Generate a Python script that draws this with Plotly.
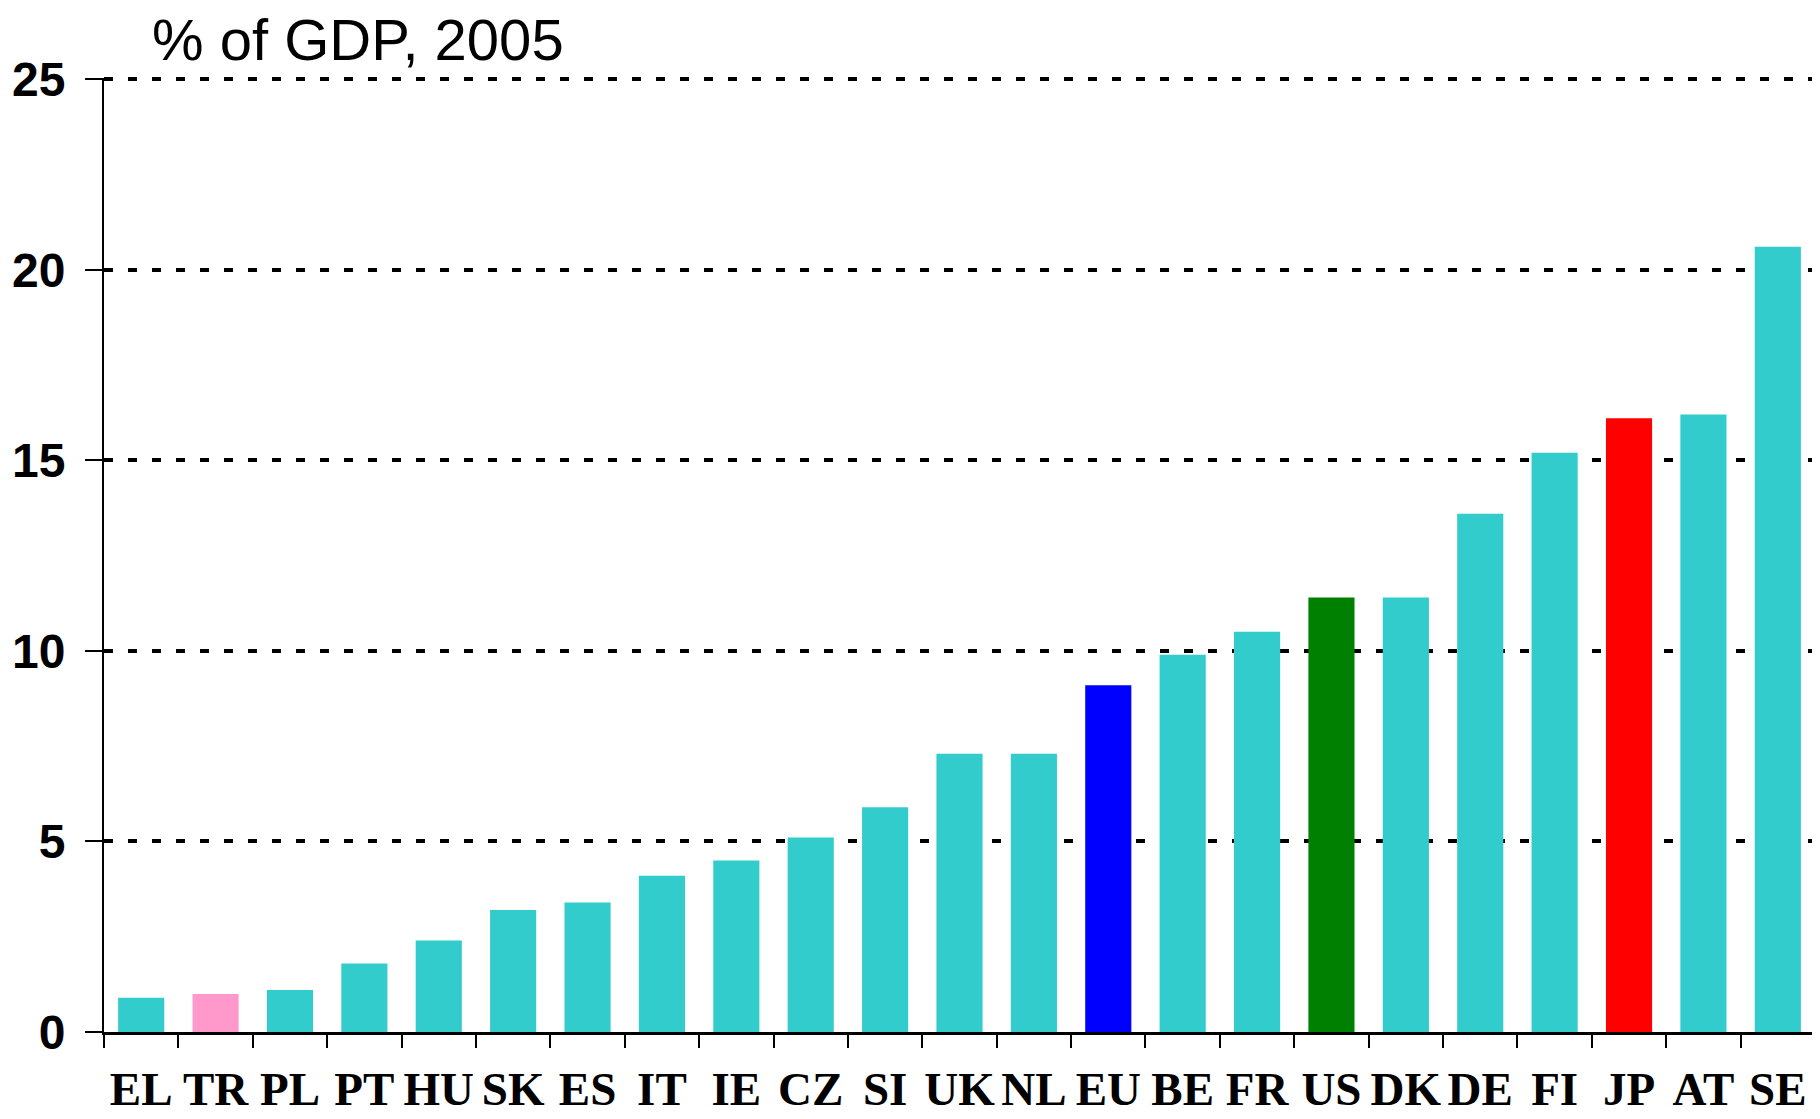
"""Bar chart: % of GDP, 2005 by country."""

import plotly.graph_objects as go

countries = [
    "EL", "TR", "PL", "PT", "HU", "SK", "ES", "IT", "IE", "CZ", "SI", "UK",
    "NL", "EU", "BE", "FR", "US", "DK", "DE", "FI", "JP", "AT", "SE",
]
values = [
    0.9, 1.0, 1.1, 1.8, 2.4, 3.2, 3.4, 4.1, 4.5, 5.1, 5.9, 7.3,
    7.3, 9.1, 9.9, 10.5, 11.4, 11.4, 13.6, 15.2, 16.1, 16.2, 20.6,
]
y_ticks = [0, 5, 10, 15, 20, 25]

# Highlight colours for the non-standard bars
TEAL = "#33CCCC"
highlight = {"TR": "#FF99CC", "EU": "#0000FF", "US": "#008000", "JP": "#FF0000"}
colors = [highlight.get(c, TEAL) for c in countries]

fig = go.Figure()

fig.add_trace(
    go.Bar(
        x=countries,
        y=values,
        marker=dict(color=colors, line=dict(width=0)),
        hovertemplate="%{x}: %{y:.1f}<extra></extra>",
    )
)

fig.add_annotation(
    text="% of GDP, 2005",
    xref="paper",
    yref="paper",
    x=0.027,
    y=1.04,
    xanchor="left",
    yanchor="middle",
    showarrow=False,
    font=dict(family="Liberation Sans, Arial", size=58, color="#000"),
)

# page body has an 8px margin, so margins are shifted to compensate
fig.update_layout(
    width=1820,
    height=1119,
    paper_bgcolor="#fff",
    plot_bgcolor="#fff",
    showlegend=False,
    bargap=0.38,
    margin=dict(l=96, r=13, t=70, b=95, autoexpand=False),
    xaxis=dict(
        type="category",
        tickson="boundaries",
        tickangle=0,
        ticks="outside",
        ticklen=13,
        tickwidth=2,
        tickcolor="#000",
        ticklabelstandoff=14,
        showline=True,
        linecolor="#000",
        linewidth=3,
        showgrid=False,
        tickfont=dict(family="Liberation Serif, Times New Roman", size=47, color="#000", weight="bold"),
    ),
    yaxis=dict(
        range=[0, 25.03],
        tickvals=y_ticks,
        ticks="outside",
        ticklen=17,
        tickwidth=2,
        tickcolor="#000",
        ticklabelstandoff=10,
        showline=True,
        linecolor="#000",
        linewidth=2,
        zeroline=False,
        showgrid=True,
        gridcolor="#000",
        gridwidth=4,
        griddash="9px,15px",
        tickfont=dict(family="Liberation Sans, Arial", size=48, color="#000", weight="bold"),
    ),
)

fig.write_html("out.html")
